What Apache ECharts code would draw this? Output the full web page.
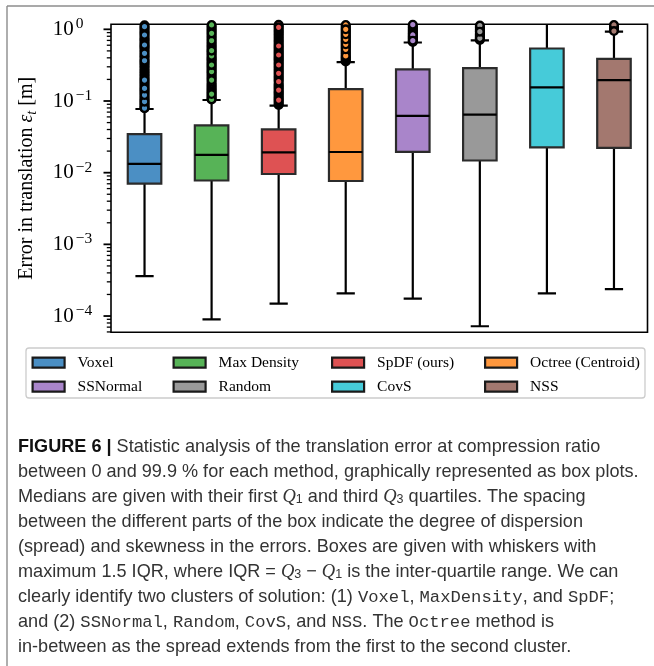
<!DOCTYPE html>
<html>
<head>
<meta charset="utf-8">
<script src="https://cdn.jsdelivr.net/npm/echarts@6/dist/echarts.min.js"></script>
<style>
  html, body { margin: 0; padding: 0; background: #fff; }
  #chart { width: 654px; height: 666px; }
</style>
</head>
<body>
<div id="chart"></div>
<script>
// Methods in plotting order
const methods = ['Voxel', 'Max Density', 'SpDF (ours)', 'Octree (Centroid)', 'SSNormal', 'Random', 'CovS', 'NSS'];
const colors = ['#4b8fc4', '#57b357', '#de5253', '#ff983e', '#a985ca', '#999999', '#46cbd9', '#a3786f'];

// Box-plot statistics of the translation error [m]
const whiskerLow  = [3.6e-4, 9.0e-5, 1.49e-4, 2.07e-4, 1.75e-4, 7.2e-5, 2.07e-4, 2.38e-4];
const q1          = [0.00702, 0.00778, 0.00958, 0.00765, 0.01955, 0.01479, 0.0226, 0.0222];
const median      = [0.0133, 0.01775, 0.01923, 0.01943, 0.0621, 0.0644, 0.1553, 0.195];
const q3          = [0.0346, 0.0458, 0.0403, 0.146, 0.277, 0.287, 0.540, 0.388];
const whiskerHigh = [0.0773, 0.1032, 0.086, 0.348, 0.655, 0.700, 1.40, 0.930];

// Outliers above the upper whisker
const fliersVoxel = [0.080, 0.083, 0.087, 0.090, 0.094, 0.101, 0.105, 0.110, 0.115, 0.126, 0.132, 0.138, 0.144,
  0.157, 0.164, 0.172, 0.180, 0.188, 0.205, 0.215, 0.226, 0.237, 0.250, 0.262, 0.275, 0.290, 0.305, 0.320,
  0.335, 0.350, 0.380, 0.400, 0.420, 0.440, 0.485, 0.510, 0.535, 0.560, 0.580, 0.630, 0.660, 0.690, 0.720,
  0.750, 0.790, 0.870, 0.910, 0.950, 1.000, 1.040, 1.140,
  0.0796, 0.098, 0.121, 0.150, 0.196, 0.365, 0.463, 0.604, 0.833, 1.09];
const fliersMaxDensity = [0.107, 0.111, 0.116, 0.120, 0.130, 0.135, 0.141, 0.147, 0.153, 0.160, 0.167, 0.175,
  0.185, 0.205, 0.215, 0.225, 0.236, 0.247, 0.268, 0.280, 0.293, 0.305, 0.330, 0.345, 0.360, 0.375, 0.390,
  0.405, 0.445, 0.465, 0.485, 0.525, 0.550, 0.575, 0.600, 0.630, 0.660, 0.725, 0.760, 0.800, 0.840, 0.920,
  0.960, 1.000, 1.050, 1.100, 1.150,
  0.105, 0.125, 0.196, 0.256, 0.318, 0.425, 0.503, 0.694, 0.880];
const fliersSpDF = [0.088, 0.091, 0.095, 0.099, 0.107, 0.111, 0.116, 0.121, 0.126, 0.131, 0.136, 0.148, 0.154,
  0.160, 0.167, 0.174, 0.194, 0.203, 0.212, 0.222, 0.232, 0.254, 0.266, 0.278, 0.290, 0.303, 0.330, 0.345,
  0.360, 0.375, 0.390, 0.405, 0.420, 0.455, 0.475, 0.495, 0.515, 0.540, 0.560, 0.610, 0.640, 0.670, 0.700,
  0.730, 0.770, 0.810, 0.850, 0.890, 0.930, 0.970, 1.020, 1.110, 1.160,
  0.103, 0.142, 0.186, 0.243, 0.318, 0.438, 0.585, 1.067];
const fliersOctree = [0.355, 0.365, 0.375, 0.390, 0.400, 0.410, 0.440, 0.455, 0.470, 0.490, 0.505, 0.545,
  0.560, 0.580, 0.600, 0.640, 0.660, 0.680, 0.700, 0.750, 0.775, 0.800, 0.825, 0.880, 0.910, 0.940, 0.970,
  1.030, 1.070, 1.110, 1.150,
  0.425, 0.526, 0.618, 0.726, 0.852, 1.000];
const fliersSSNormal = [0.665, 0.680, 0.710, 0.730, 0.750, 0.770, 0.790, 0.810, 0.860, 0.880, 0.910, 0.940,
  0.970, 1.000, 1.040, 1.080, 1.120, 1.160,
  0.834, 0.694];
const fliersRandom = [0.710, 0.725, 0.740, 0.760, 0.780, 0.800, 0.820, 0.840, 0.860, 0.890, 0.950, 0.980,
  1.010, 1.050, 1.090, 1.130,
  0.750, 0.927];
const fliersCovS = [];
const fliersNSS = [0.970, 1.010, 1.050, 1.100, 1.150, 0.945];
const fliers = [fliersVoxel, fliersMaxDensity, fliersSpDF, fliersOctree, fliersSSNormal, fliersRandom, fliersCovS, fliersNSS];

// Axis range and tick positions
const yMin = 5.93e-5;
const yMax = 1.175;
const majorTicks = [1e-4, 1e-3, 1e-2, 1e-1, 1];
const minorTicks = [];
for (let e = -5; e <= 0; e++) {
  for (let m = 2; m <= 9; m++) {
    const v = m * Math.pow(10, e);
    if (v >= yMin && v <= yMax) minorTicks.push(v);
  }
}

// Legend layout: four columns of two entries
const legendColumns = [['Voxel', 'SSNormal'], ['Max Density', 'Random'], ['SpDF (ours)', 'CovS'], ['Octree (Centroid)', 'NSS']];
const legendLeft = [31.5, 172.5, 331, 484];

// Caption lines
const captionLines = [
  '{b|FIGURE 6 |} Statistic analysis of the translation error at compression ratio',
  'between 0 and 99.9 % for each method, graphically represented as box plots.',
  'Medians are given with their first {q|Q}{s|1} and third {q|Q}{s|3} quartiles. The spacing',
  'between the different parts of the box indicate the degree of dispersion',
  '(spread) and skewness in the errors. Boxes are given with whiskers with',
  'maximum 1.5 IQR, where IQR = {q|Q}{s|3} \u2212 {q|Q}{s|1} is the inter-quartile range. We can',
  'clearly identify two clusters of solution: (1) {m|Voxel}, {m|MaxDensity}, and {m|SpDF};',
  'and (2) {m|SSNormal}, {m|Random}, {m|CovS}, and {m|NSS}. The {m|Octree} method is',
  'in-between as the spread extends from the first to the second cluster.'
];

const SERIF = "'Liberation Serif', 'DejaVu Serif', serif";
const SANS = "'Liberation Sans', Arial, sans-serif";
const MONO = "'Liberation Mono', 'DejaVu Sans Mono', monospace";

const GRID_LEFT = 111;

function renderBox(params, api) {
  const i = api.value(0);
  const band = api.size([1, 1])[0];
  const half = band * 0.25;
  const capHalf = band * 0.136;
  const pLo = api.coord([i, api.value(1)]);
  const pQ1 = api.coord([i, api.value(2)]);
  const pMed = api.coord([i, api.value(3)]);
  const pQ3 = api.coord([i, api.value(4)]);
  const pHi = api.coord([i, api.value(5)]);
  const x = pMed[0];
  const lineStyle = { stroke: '#000', lineWidth: 2.2, fill: null };
  return {
    type: 'group',
    children: [
      { type: 'line', shape: { x1: x, y1: pQ1[1], x2: x, y2: pLo[1] }, style: lineStyle },
      { type: 'line', shape: { x1: x, y1: pQ3[1], x2: x, y2: pHi[1] }, style: lineStyle },
      { type: 'line', shape: { x1: x - capHalf, y1: pLo[1], x2: x + capHalf, y2: pLo[1] }, style: lineStyle },
      { type: 'line', shape: { x1: x - capHalf, y1: pHi[1], x2: x + capHalf, y2: pHi[1] }, style: lineStyle },
      { type: 'rect', shape: { x: x - half, y: pQ3[1], width: 2 * half, height: pQ1[1] - pQ3[1] },
        style: { fill: api.visual('color'), stroke: '#2b2b2b', lineWidth: 2.2 } },
      { type: 'line', shape: { x1: x - half, y1: pMed[1], x2: x + half, y2: pMed[1] }, style: lineStyle }
    ]
  };
}

const series = [];
methods.forEach((name, i) => {
  series.push({
    name: name,
    type: 'custom',
    renderItem: renderBox,
    clip: true,
    itemStyle: { color: colors[i] },
    encode: { x: 0, y: [1, 2, 3, 4, 5] },
    data: [[i, whiskerLow[i], q1[i], median[i], q3[i], whiskerHigh[i]]],
    z: 2,
    silent: true
  });
});
methods.forEach((name, i) => {
  series.push({
    name: name,
    type: 'scatter',
    clip: true,
    symbol: 'circle',
    symbolSize: 7.6,
    itemStyle: { color: colors[i], borderColor: '#000', borderWidth: 2.4, opacity: 1 },
    data: fliers[i].map(v => [i, v]),
    z: 3,
    silent: true
  });
});

const legends = legendColumns.map((col, c) => ({
  orient: 'vertical',
  left: legendLeft[c],
  top: 353.7,
  padding: 0,
  itemGap: 6,
  itemWidth: 32,
  itemHeight: 10,
  selectedMode: false,
  icon: 'rect',
  textStyle: { fontFamily: SERIF, fontSize: 15.5, color: '#000', lineHeight: 18, padding: [0, 0, 0, 8] },
  data: col.map(n => {
    const k = methods.indexOf(n);
    return { name: n, icon: 'rect', itemStyle: { color: colors[k], borderColor: '#1a1a1a', borderWidth: 2.2 } };
  })
}));

const graphics = [
  // page frame
  { id: 'frameTop', type: 'line', shape: { x1: 7, y1: 6, x2: 654, y2: 6 }, style: { stroke: '#8c8c8c', lineWidth: 1.4 }, z: 0 },
  { id: 'frameLeft', type: 'line', shape: { x1: 7, y1: 6, x2: 7, y2: 666 }, style: { stroke: '#8c8c8c', lineWidth: 1.4 }, z: 0 },
  // legend frame
  { id: 'legendFrame', type: 'rect', shape: { x: 26, y: 348, width: 619, height: 50, r: 3 },
    style: { fill: '#fff', stroke: '#cccccc', lineWidth: 1.3 }, z: 0 }
];
captionLines.forEach((t, k) => {
  graphics.push({
    id: 'caption' + k,
    type: 'text',
    x: 18,
    y: 447 + 25 * k,
    z: 1,
    style: {
      text: t,
      fontFamily: SANS,
      fontSize: 18.1,
      fill: '#333',
      verticalAlign: 'middle',
      rich: {
        b: { fontFamily: SANS, fontSize: 18.1, fontWeight: 'bold', fill: '#111' },
        q: { fontFamily: SERIF, fontSize: 18.5, fontStyle: 'italic', fill: '#333', verticalAlign: 'middle' },
        s: { fontFamily: SANS, fontSize: 12.5, fill: '#333', verticalAlign: 'bottom', lineHeight: 14 },
        m: { fontFamily: MONO, fontSize: 17.2, fill: '#333' }
      }
    }
  });
});

const chart = echarts.init(document.getElementById('chart'), null, { renderer: 'canvas' });
chart.setOption({
  animation: false,
  backgroundColor: '#fff',
  grid: { left: GRID_LEFT, right: 6.5, top: 24.3, bottom: 333.7, show: true, borderColor: '#000', borderWidth: 1.6, backgroundColor: 'transparent' },
  xAxis: {
    type: 'category',
    data: methods,
    boundaryGap: true,
    axisLine: { show: false },
    axisTick: { show: false },
    axisLabel: { show: false },
    splitLine: { show: false }
  },
  yAxis: {
    type: 'log',
    logBase: 10,
    min: yMin,
    max: yMax,
    position: 'left',
    axisLine: { show: false },
    splitLine: { show: false },
    axisTick: { show: false },
    axisLabel: {
      customValues: majorTicks,
      margin: 58.3,
      align: 'left',
      formatter: v => {
        const e = Math.round(Math.log10(v));
        return '{b|10}{s|' + (e < 0 ? '\u2212' + (-e) : e) + '}';
      },
      rich: {
        b: { fontFamily: SERIF, fontSize: 21, color: '#000', lineHeight: 26, verticalAlign: 'middle' },
        s: { fontFamily: SERIF, fontSize: 15.5, color: '#000', lineHeight: 19, verticalAlign: 'top', padding: [0, 0, 0, 2] }
      }
    },
    name: 'Error in translation {e|\u03B5}{t|t} [m]',
    nameLocation: 'middle',
    nameGap: 72,
    nameRotate: 90,
    nameTextStyle: {
      fontFamily: SERIF, fontSize: 20, color: '#000', lineHeight: 24,
      rich: {
        e: { fontFamily: SERIF, fontSize: 20, fontStyle: 'italic', color: '#000', lineHeight: 24, verticalAlign: 'middle' },
        t: { fontFamily: SERIF, fontSize: 14, fontStyle: 'italic', color: '#000', lineHeight: 15, verticalAlign: 'bottom' }
      }
    }
  },
  legend: legends,
  graphic: graphics,
  series: series
});

// Outward ticks on the left spine, positioned by the log axis scale
const tickMarks = [];
majorTicks.forEach((v, k) => {
  const y = chart.convertToPixel({ yAxisIndex: 0 }, v);
  tickMarks.push({ id: 'major' + k, type: 'line', z: 10,
    shape: { x1: GRID_LEFT - 7.5, y1: y, x2: GRID_LEFT, y2: y },
    style: { stroke: '#000', lineWidth: 1.8 } });
});
minorTicks.forEach((v, k) => {
  const y = chart.convertToPixel({ yAxisIndex: 0 }, v);
  tickMarks.push({ id: 'minor' + k, type: 'line', z: 10,
    shape: { x1: GRID_LEFT - 4.2, y1: y, x2: GRID_LEFT, y2: y },
    style: { stroke: '#000', lineWidth: 1.3 } });
});
chart.setOption({ graphic: graphics.concat(tickMarks) });
</script>
</body>
</html>
